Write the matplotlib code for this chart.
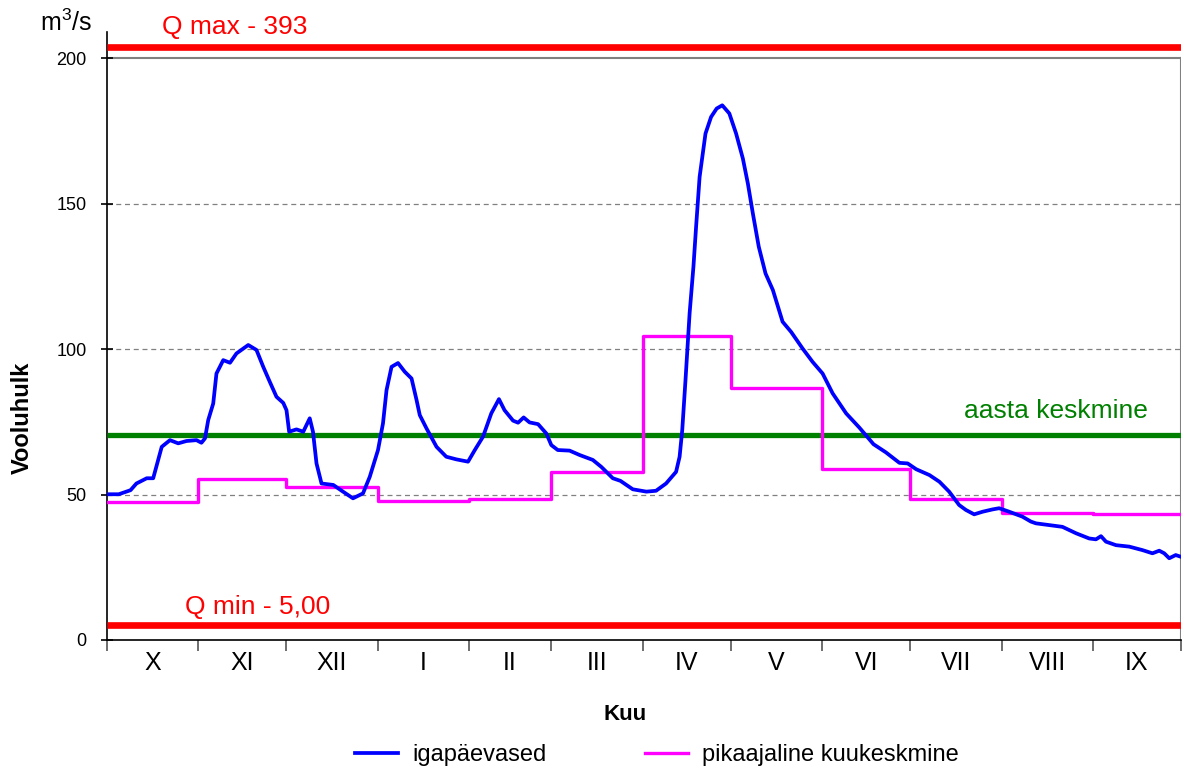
import numpy as np
import matplotlib
matplotlib.use('Agg')
from matplotlib import pyplot as plt

plt.rcParams['font.family'] = ['Liberation Sans', 'DejaVu Sans']

# hydrological year, day counted from 1 October
month_names = ['X', 'XI', 'XII', 'I', 'II', 'III', 'IV', 'V', 'VI', 'VII', 'VIII', 'IX']
month_days = [31, 30, 31, 31, 28, 31, 30, 31, 30, 31, 31, 30]
month_mean = [47.4, 55.2, 52.5, 47.7, 48.3, 57.6, 104.6, 86.5, 58.7, 48.3, 43.7, 43.3]

daily_day = [0, 4, 8, 10, 13.5, 15.7, 17.4, 18.6, 21.4, 24.2, 27, 30.4, 32.1, 33.3, 34.4, 36.1,
             37.2, 39.5, 41.8, 44, 48, 50.8, 53.1, 55.3, 57.6, 59.9, 61, 61.9, 64.4, 66.7, 68.9,
             70, 71.2, 72.9, 76.9, 80.2, 83.6, 87, 89.3, 92.1, 93.8, 95, 96.7, 98.9, 101.2, 103.5,
             105.2, 106.3, 108.6, 112, 115.3, 118.7, 122.7, 125, 127.8, 130.6, 133.2, 135.1, 138,
             139.7, 141.6, 143.6, 146.5, 149.3, 151, 153.2, 157.2, 160.6, 165.1, 168, 171.9, 174.5,
             178.7, 183.3, 186.6, 190, 193.4, 194.6, 195.5, 196.6, 198, 199.3, 200.2, 201.4, 203.4,
             205.3, 207.2, 209.1, 211.5, 213.8, 216.1, 217.8, 219.5, 221.5, 223.8, 226.3, 229.6,
             232.5, 236.4, 239.8, 243.2, 246.6, 251.2, 255.7, 260.5, 264.7, 269.3, 272.1, 275,
             279.5, 282.9, 286.2, 289.6, 291.9, 294.7, 297.6, 301, 303.2, 306.6, 311.1, 314, 315.7,
             320.2, 324.7, 329.3, 333.8, 336.1, 337.8, 339.5, 342.9, 347.4, 351.9, 355.3, 357.6,
             359.3, 361, 363.2, 365]
daily_q = [50.1, 50.1, 51.5, 53.8, 55.6, 55.6, 61.9, 66.4, 68.7, 67.6, 68.4, 68.7, 67.8, 69.3, 75.6,
           81.3, 91.6, 96.2, 95.3, 98.5, 101.4, 99.7, 93.9, 88.8, 83.6, 81.5, 79, 71.6, 72.4, 71.6,
           76.2, 71.6, 60.7, 53.8, 53.3, 51, 48.7, 50.4, 56.1, 65.3, 74.5, 85.9, 93.9, 95.2, 92.2,
           89.9, 82.5, 77.3, 72.7, 66.4, 63, 62.1, 61.3, 65.3, 69.9, 77.9, 82.8, 79, 75.4, 74.7,
           76.5, 74.8, 74.2, 71, 67, 65.3, 65.1, 63.6, 61.9, 59.5, 55.6, 54.7, 51.8, 51, 51.3, 53.8,
           57.8, 63, 72.2, 89.3, 112.3, 128.3, 142, 159.2, 174.1, 179.8, 182.7, 183.8, 181, 174.1,
           165.5, 156.9, 146.6, 135.2, 126, 120.3, 109.4, 105.9, 100.2, 95.6, 91.6, 84.8, 77.9,
           73, 67.3, 64.5, 60.9, 60.7, 58.7, 56.7, 54.4, 51, 46.4, 44.7, 43.2, 44.1, 44.9, 45.3,
           44.1, 42.4, 40.7, 40.1, 39.5, 38.9, 36.7, 34.9, 34.6, 35.7, 33.8, 32.6, 32.1, 30.9, 29.8,
           30.7, 29.8, 28.1, 29.2, 28.6]

q_max = 203.8
q_min = 5.0
q_year = 70.4

edges = np.concatenate([[0], np.cumsum(month_days)])
centers = (edges[:-1] + edges[1:]) / 2

fig = plt.figure(figsize=(11.82, 7.71), dpi=100)
ax = fig.add_axes([107 / 1182, 131 / 771, 1074 / 1182, 608 / 771])

ax.set_xlim(0, 365)
ax.set_ylim(0, 209)

# frame and grid
for v in [50, 100, 150]:
    ax.axhline(v, color='#808080', lw=0.9, ls=(0, (4, 3)), zorder=1)
ax.plot([0, 365], [200, 200], color='#808080', lw=1.5, zorder=1)
ax.plot([365, 365], [0, 200], color='#808080', lw=1.5, zorder=1)
ax.spines['top'].set_visible(False)
ax.spines['right'].set_visible(False)
ax.spines['left'].set_linewidth(1.2)
ax.spines['bottom'].set_linewidth(1.2)

# reference lines
ax.axhline(q_max, color='#ff0000', lw=4.8, zorder=3, solid_capstyle='butt')
ax.axhline(q_min, color='#ff0000', lw=4.8, zorder=3, solid_capstyle='butt')
ax.axhline(q_year, color='#008000', lw=3.8, zorder=3, solid_capstyle='butt')

ax.step(edges, month_mean + [month_mean[-1]], where='post', color='#ff00ff', lw=2.4, zorder=4,
        label='pikaajaline kuukeskmine')
ax.plot(daily_day, daily_q, color='#0000ff', lw=2.7, zorder=5, label='igapäevased')

ax.text(18.7, 208.3, 'Q max - 393', color='#ff0000', fontsize=19, va='baseline')
ax.text(26.5, 9.0, 'Q min - 5,00', color='#ff0000', fontsize=19, va='baseline')
ax.text(291.3, 76.3, 'aasta keskmine', color='#008000', fontsize=19, va='baseline')

ax.set_yticks([0, 50, 100, 150, 200])
ax.tick_params(axis='y', direction='inout', length=9, width=1.2, labelsize=13, pad=10)
ax.set_xticks(edges)
ax.set_xticklabels([])
ax.tick_params(axis='x', which='major', direction='out', length=8, width=1.2, color='#555555')
ax.set_xticks(centers, minor=True)
ax.set_xticklabels(month_names, minor=True, fontsize=18)
ax.tick_params(axis='x', which='minor', length=0, pad=8)

fig.text(22 / 1182, 1 - 418 / 771, 'Vooluhulk', rotation=90, fontsize=17, fontweight='bold',
         ha='center', va='center')
fig.text(625 / 1182, 1 - 715 / 771, 'Kuu', fontsize=16, fontweight='bold', ha='center', va='center')
fig.text(40 / 1182, 1 - 31 / 771, r'$\mathregular{m^3/s}$', fontsize=18, va='baseline')

h, l = ax.get_legend_handles_labels()
fig.legend(h[::-1], l[::-1], loc='center', bbox_to_anchor=(657 / 1182, 1 - 755 / 771), ncol=2,
           frameon=False, fontsize=17, handlelength=1.8, handletextpad=0.6, columnspacing=4.2)

fig.savefig('out.png', dpi=100)
